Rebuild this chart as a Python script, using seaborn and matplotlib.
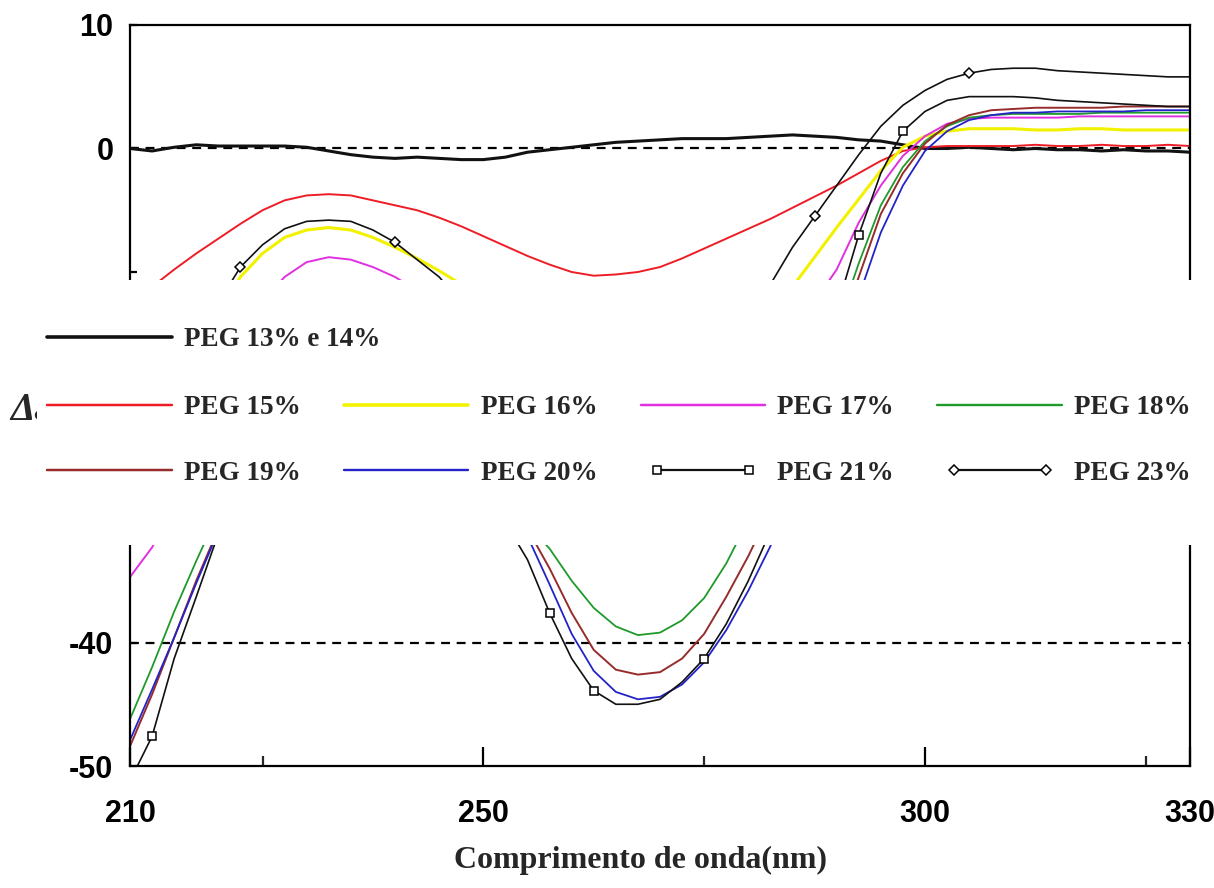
import matplotlib
matplotlib.use("Agg")
import matplotlib.pyplot as plt
from matplotlib import font_manager
from matplotlib.font_manager import FontProperties
from matplotlib.patches import Rectangle
from matplotlib.lines import Line2D
from matplotlib.legend_handler import HandlerLine2D
from matplotlib.ticker import FixedLocator
import seaborn as sns

# ---------------- data ----------------
wavelength = [210, 212.5, 215, 217.5, 220, 222.5, 225, 227.5, 230, 232.5,
              235, 237.5, 240, 242.5, 245, 247.5, 250, 252.5, 255, 257.5,
              260, 262.5, 265, 267.5, 270, 272.5, 275, 277.5, 280, 282.5,
              285, 287.5, 290, 292.5, 295, 297.5, 300, 302.5, 305, 307.5,
              310, 312.5, 315, 317.5, 320, 322.5, 325, 327.5, 330]

peg13_14 = [0.0, -0.2, 0.1, 0.3, 0.2, 0.2, 0.2, 0.2, 0.1, -0.2,
            -0.5, -0.7, -0.8, -0.7, -0.8, -0.9, -0.9, -0.7, -0.3, -0.1,
            0.1, 0.3, 0.5, 0.6, 0.7, 0.8, 0.8, 0.8, 0.9, 1.0,
            1.1, 1.0, 0.9, 0.7, 0.6, 0.3, 0.0, 0.0, 0.1, 0.0,
            -0.1, 0.0, -0.1, -0.1, -0.2, -0.1, -0.2, -0.2, -0.3]
peg15 = [-12.6, -11.2, -9.8, -8.5, -7.3, -6.1, -5.0, -4.2, -3.8, -3.7,
         -3.8, -4.2, -4.6, -5.0, -5.6, -6.3, -7.1, -7.9, -8.7, -9.4,
         -10.0, -10.3, -10.2, -10.0, -9.6, -8.9, -8.1, -7.3, -6.5, -5.7,
         -4.8, -3.9, -3.0, -2.0, -1.0, -0.2, 0.1, 0.2, 0.2, 0.2,
         0.2, 0.3, 0.2, 0.2, 0.3, 0.2, 0.2, 0.3, 0.2]
peg16 = [-27.0, -24.0, -20.5, -16.8, -13.3, -10.4, -8.5, -7.2, -6.6, -6.4,
         -6.6, -7.2, -8.0, -8.9, -9.9, -11.0, -12.8, -15.0, -17.3, -19.3,
         -20.8, -21.8, -22.2, -22.0, -21.2, -19.8, -18.2, -16.5, -14.8, -13.0,
         -11.2, -8.8, -6.4, -4.1, -1.8, 0.1, 1.0, 1.4, 1.6, 1.6,
         1.6, 1.5, 1.5, 1.6, 1.6, 1.5, 1.5, 1.5, 1.5]
peg17 = [-34.7, -32.3, -29.0, -24.5, -19.8, -15.6, -12.4, -10.4, -9.2, -8.8,
         -9.0, -9.6, -10.4, -11.5, -13.2, -15.2, -17.5, -20.0, -22.5, -24.5,
         -26.0, -27.0, -27.4, -27.0, -26.2, -24.8, -23.0, -21.0, -19.0, -17.0,
         -14.8, -12.4, -9.8, -6.0, -3.0, -0.6, 1.0, 2.0, 2.4, 2.5,
         2.5, 2.5, 2.5, 2.6, 2.6, 2.6, 2.6, 2.6, 2.6]
peg18 = [-46.2, -42.0, -37.5, -33.4, -29.5, -25.8, -22.6, -20.2, -18.6, -18.0,
         -18.3, -19.2, -20.5, -22.0, -23.8, -25.6, -27.4, -29.0, -30.5, -32.4,
         -35.0, -37.2, -38.7, -39.4, -39.2, -38.2, -36.4, -33.6, -30.1, -26.2,
         -22.4, -18.5, -14.5, -9.3, -4.6, -1.5, 0.6, 1.8, 2.5, 2.7,
         2.8, 2.8, 2.8, 2.8, 2.9, 2.9, 2.9, 2.9, 2.9]
peg19 = [-48.4, -44.2, -39.6, -35.0, -30.8, -27.0, -24.0, -21.8, -20.5, -20.0,
         -20.5, -21.5, -23.0, -24.5, -26.0, -27.4, -28.6, -29.6, -30.8, -34.0,
         -37.6, -40.6, -42.2, -42.6, -42.4, -41.3, -39.3, -36.3, -33.0, -29.3,
         -24.8, -20.0, -15.5, -10.4, -5.3, -2.0, 0.4, 1.9, 2.7, 3.1,
         3.2, 3.3, 3.3, 3.3, 3.3, 3.4, 3.4, 3.4, 3.4]
peg20 = [-47.9, -43.8, -39.6, -35.2, -31.0, -27.2, -24.3, -22.2, -21.0, -20.5,
         -21.0, -22.0, -23.4, -25.0, -26.4, -27.8, -29.0, -30.0, -31.4, -35.3,
         -39.3, -42.3, -44.0, -44.6, -44.4, -43.4, -41.6, -39.0, -35.8, -32.2,
         -27.5, -22.3, -17.0, -12.0, -6.8, -3.0, -0.2, 1.4, 2.3, 2.7,
         2.9, 2.9, 3.0, 3.0, 3.0, 3.0, 3.1, 3.1, 3.1]
peg21 = [-51.2, -47.6, -41.3, -36.3, -31.2, -27.0, -23.5, -21.0, -19.5, -19.0,
         -19.5, -20.5, -22.0, -23.8, -25.5, -27.2, -28.7, -30.3, -33.3, -37.6,
         -41.3, -43.9, -45.0, -45.0, -44.6, -43.2, -41.3, -38.5, -35.0, -31.0,
         -25.5, -19.5, -13.0, -7.0, -2.0, 1.4, 3.0, 3.9, 4.2, 4.2,
         4.2, 4.1, 3.9, 3.8, 3.7, 3.6, 3.5, 3.4, 3.4]
peg23 = [-26.0, -22.5, -19.0, -15.6, -12.5, -9.6, -7.8, -6.5, -5.9, -5.8,
         -5.9, -6.6, -7.6, -9.0, -10.4, -12.5, -15.0, -17.5, -20.0, -22.0,
         -23.5, -24.5, -25.0, -24.8, -24.0, -22.5, -20.3, -17.5, -14.3, -11.0,
         -8.0, -5.5, -3.0, -0.5, 1.8, 3.5, 4.7, 5.6, 6.1, 6.4,
         6.5, 6.5, 6.3, 6.2, 6.1, 6.0, 5.9, 5.8, 5.8]

series_labels = ["PEG 13% e 14%", "PEG 15%", "PEG 16%", "PEG 17%", "PEG 18%",
                 "PEG 19%", "PEG 20%", "PEG 21%", "PEG 23%"]
series_values = [peg13_14, peg15, peg16, peg17, peg18, peg19, peg20, peg21, peg23]

x_tick_values = [210, 250, 300, 330]
x_tick_labels = ["210", "250", "300", "330"]
x_minor_ticks = [225, 275, 325]
y_tick_values = [10, 0, -10, -20, -30, -40, -50]
y_tick_labels = ["10", "0", "", "", "", "-40", "-50"]
reference_levels = [0, -40]

# ---------------- style ----------------
colors = ["#111111", "#ee1c25", "#f2f200", "#e030e0", "#1f9a2a",
          "#962c2c", "#2323c8", "#111111", "#111111"]
widths = [2.2, 1.4, 2.2, 1.4, 1.3, 1.4, 1.3, 1.2, 1.2]
markers = [None, None, None, None, None, None, None, "s", "D"]
mark_idx = [None, None, None, None, None, None, None,
            [1, 19, 21, 26, 33, 35], [5, 12, 31, 38]]

sns.set_style("ticks")
available = {f.name for f in font_manager.fontManager.ttflist}


def pick(names, default="DejaVu Sans"):
    for n in names:
        if n in available:
            return n
    return default


narrow = pick(["Liberation Sans Narrow", "DejaVu Sans Condensed", "Liberation Sans"])
serif = pick(["Liberation Serif", "DejaVu Serif"])
plt.rcParams["font.family"] = [serif, "DejaVu Sans"]

tick_fp = FontProperties(family=narrow, weight="bold",
                         size=25 if ("Narrow" in narrow or "Condensed" in narrow) else 22)
label_fp = FontProperties(family=serif, weight="bold", size=23)
legend_fp = FontProperties(family=serif, weight="bold", size=19.5)

W, H = 1214, 888
fig = plt.figure(figsize=(W / 100, H / 100), dpi=100)
fig.patch.set_facecolor("white")
ax = fig.add_axes([130 / W, (H - 766) / H, 1060 / W, 741 / H])
ax.set_facecolor("white")

for lvl in reference_levels:
    ax.axhline(lvl, color="black", lw=1.6, ls=(0, (4, 3)), zorder=1)

for lab, vals, c, lw, mk, mi in zip(series_labels, series_values, colors,
                                    widths, markers, mark_idx):
    kw = {}
    if mk is not None:
        kw = dict(marker=mk, markevery=mi, markersize=6 if mk == "s" else 5,
                  markerfacecolor="white", markeredgecolor="black",
                  markeredgewidth=1.1)
    sns.lineplot(x=wavelength, y=vals, ax=ax, color=c, linewidth=lw,
                 estimator=None, sort=False, label=lab, zorder=2, **kw)

if ax.get_legend() is not None:
    ax.get_legend().remove()

ax.set_xlim(210, 330)
ax.set_ylim(-50, 10)

ax.set_xticks(x_tick_values)
ax.set_xticklabels(x_tick_labels)
ax.xaxis.set_minor_locator(FixedLocator(x_minor_ticks))
ax.tick_params(axis="x", which="major", direction="in", length=14, width=1.6,
               pad=24, colors="black")
ax.tick_params(axis="x", which="minor", direction="in", length=7, width=1.6)
ax.set_yticks(y_tick_values)
ax.set_yticklabels(y_tick_labels)
ax.tick_params(axis="y", which="major", direction="in", length=5, width=1.6,
               pad=12, colors="black")
ax.tick_params(axis="y", which="minor", left=False)
for t in ax.get_xticklabels() + ax.get_yticklabels():
    t.set_fontproperties(tick_fp)

for s in ax.spines.values():
    s.set_color("black")
    s.set_linewidth(1.6)
    s.set_visible(True)

ax.set_xlabel("Comprimento de onda(nm)", fontproperties=label_fp)
ax.xaxis.set_label_coords((641 - 130) / 1060, (766 - 860) / 741)
ax.xaxis.label.set_va("center")

ax.set_ylabel("Δε", rotation=0, fontproperties=FontProperties(
    family=serif, weight="bold", style="italic", size=28))
ax.yaxis.set_label_coords((10 - 130) / 1060, (766 - 410) / 741)
ax.yaxis.label.set_ha("left")
ax.yaxis.label.set_va("center")

# white legend panel pasted over the middle of the plot
panel = Rectangle((37 / W, (H - 545) / H), 1 - 37 / W, (545 - 280) / H,
                  transform=fig.transFigure, facecolor="white",
                  edgecolor="none", zorder=4)
fig.add_artist(panel)


def proxy(i):
    kw = dict(color=colors[i], lw=widths[i] + 0.4)
    if markers[i] is not None:
        kw.update(marker=markers[i], markersize=6 if markers[i] == "s" else 5,
                  markerfacecolor="white", markeredgecolor="black",
                  markeredgewidth=1.1)
    return Line2D([], [], **kw)


handles = [proxy(i) for i in range(len(series_labels))]
hmap = {}
for i, h in enumerate(handles):
    if markers[i] is None:
        hmap[h] = HandlerLine2D(numpoints=1)
    else:
        hmap[h] = HandlerLine2D(numpoints=2, marker_pad=0.6)

common = dict(frameon=False, handlelength=4.6, handletextpad=0.45,
              borderpad=0, borderaxespad=0, prop=legend_fp,
              loc="upper left", handler_map=hmap)
leg1 = fig.legend(handles=[handles[0]], labels=[series_labels[0]],
                  bbox_to_anchor=(47 / W, 1 - 327 / H), **common)
leg1.set_zorder(6)

order = [1, 5, 2, 6, 3, 7, 4, 8]
leg2 = fig.legend(handles=[handles[i] for i in order],
                  labels=[series_labels[i] for i in order], ncol=4,
                  columnspacing=1.6, labelspacing=1.5,
                  bbox_to_anchor=(47 / W, 1 - 395 / H), **common)
leg2.set_zorder(6)

fig.savefig("out.png", dpi=100, facecolor="white")
